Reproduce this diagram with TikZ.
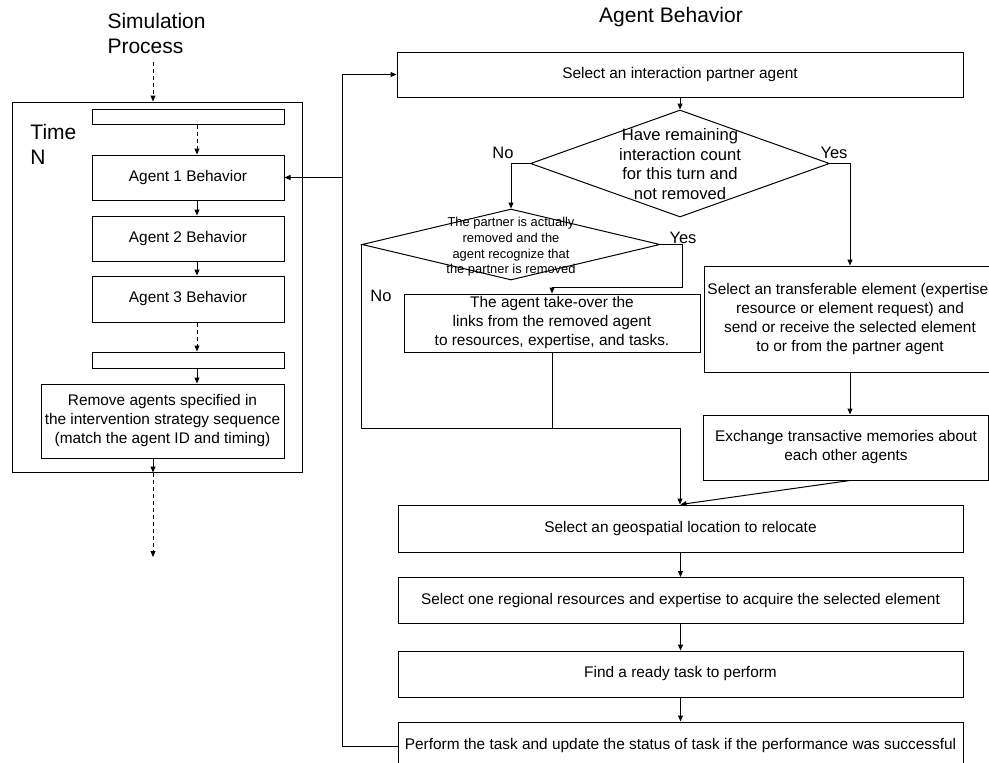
\documentclass[tikz,border=0pt]{standalone}
\usepackage{fontspec}
\setmainfont{Liberation Sans}
\usetikzlibrary{arrows.meta,shapes.geometric}

\begin{document}
\begin{tikzpicture}[x=1pt,y=-1pt,line width=1pt,
  box/.style={draw,rectangle,inner sep=0pt,align=center,font=\fontsize{15.4}{19}\selectfont},
  dia/.style={draw,diamond,inner sep=0pt},
  arr/.style={-{Triangle[length=6pt,width=5pt]}},
  dsh/.style={dash pattern=on 4pt off 3pt},
  lbl/.style={font=\fontsize{16.5}{19}\selectfont,inner sep=0pt},
  ttl/.style={font=\fontsize{21}{25}\selectfont,align=center,inner sep=0pt}]

\useasboundingbox (0,0) rectangle (989,763);

% ---------------- simulation process (left) ----------------
\node[ttl,align=left,anchor=west] (simt) at (107,33) {Simulation\\Process};
\node[draw,inner sep=0pt,minimum width=290pt,minimum height=370pt] (outer) at (157,287) {};
\node[ttl,align=left,anchor=west] (time) at (30,144) {Time\\N};

\node[box,minimum width=192pt,minimum height=15pt] (e1) at (188,116.5) {};
\node[box,minimum width=192pt,minimum height=45pt] (a1) at (188,177.5) {Agent 1 Behavior};
\node[box,minimum width=192pt,minimum height=45pt] (a2) at (188,238.5) {Agent 2 Behavior};
\node[box,minimum width=192pt,minimum height=46pt] (a3) at (188,299) {Agent 3 Behavior};
\node[box,minimum width=192pt,minimum height=16pt] (e2) at (188,360) {};
\node[box,minimum width=243pt,minimum height=74pt] (rm) at (162.5,421)
  {Remove agents specified in\\the intervention strategy sequence\\(match the agent ID and timing)};

\coordinate (sx) at (153,0);
\coordinate (cx) at (197,0);
\coordinate (sin) at (153,62);
\coordinate (send) at (153,557);

\draw[arr,dsh] (sin) -- (sin |- outer.north);
\draw[arr,dsh] (e1.south -| cx) -- (a1.north -| cx);
\draw[arr] (a1.south -| cx) -- (a2.north -| cx);
\draw[arr] (a2.south -| cx) -- (a3.north -| cx);
\draw[arr,dsh] (a3.south -| cx) -- (e2.north -| cx);
\draw[arr] (e2.south -| cx) -- (rm.north -| cx);
\draw[arr] (rm.south -| sx) -- (outer.south -| sx);
\draw[arr,dsh] (outer.south -| sx) -- (send);

% ---------------- agent behavior (right) ----------------
\node[ttl] (abt) at (671,17) {Agent Behavior};

\node[box,minimum width=566pt,minimum height=45pt] (sel) at (680,74.5) {Select an interaction partner agent};

\node[dia,minimum width=299pt,minimum height=107pt] (d1) at (680,163.5) {};
\node[font=\fontsize{16.6}{19.4}\selectfont,align=center,inner sep=0pt] (d1t) at (680,164)
  {Have remaining\\interaction count\\for this turn and\\not removed};
\node[lbl] (no1) at (503,153) {No};
\node[lbl] (yes1) at (834,153) {Yes};

\node[dia,minimum width=298pt,minimum height=71pt] (d2) at (511,244.5) {};
\node[font=\fontsize{12.9}{15.7}\selectfont,align=center,inner sep=0pt] (d2t) at (511,247)
  {The partner is actually\\removed and the\\agent recognize that\\the partner is removed};
\node[lbl] (yes2) at (683,238) {Yes};
\node[lbl] (no2) at (381,296) {No};

\node[box,minimum width=296pt,minimum height=58pt] (tk) at (552,323)
  {The agent take-over the\\links from the removed agent\\to resources, expertise, and tasks.};

\node[box,minimum width=292pt,minimum height=106pt,font=\fontsize{15.4}{18.7}\selectfont] (tr) at (850,319)
  {Select an transferable element (expertise,\\resource or element request) and\\send or receive the selected element\\to or from the partner agent};
\node[box,minimum width=285pt,minimum height=65pt] (ex) at (846,447.5)
  {Exchange transactive memories about\\each other agents};

\node[box,minimum width=565pt,minimum height=47pt] (geo) at (680.5,528.5) {Select an geospatial location to relocate};
\node[box,minimum width=565pt,minimum height=46pt] (reg) at (680.5,600.5) {Select one regional resources and expertise to acquire the selected element};
\node[box,minimum width=565pt,minimum height=46pt] (fnd) at (680.5,674) {Find a ready task to perform};
\node[box,minimum width=565pt,minimum height=48pt] (prf) at (680.5,746) {Perform the task and update the status of task if the performance was successful};

\coordinate (lp) at (342,0);
\coordinate (yx) at (682,287);
\coordinate (jn) at (680,428);

% loop back to the agent list and the next partner selection
\draw[arr] (prf.west) -| (lp |- sel.west) -- (sel.west);
\draw[arr] (lp |- a1.east) -- (a1.east);

\draw[arr] (sel.south) -- (d1.north);
\draw[arr] (d1.west) -| (d2.north);
\draw[arr] (d1.east) -| (tr.north);
\draw[arr] (d2.east) -| (yx) -| (tk.north);
\draw[arr] (d2.west) |- (jn) -- (jn |- geo.north);
\draw (tk.south) -- (tk.south |- jn);
\draw[arr] (tr.south) -- (tr.south |- ex.north);
\draw[arr] (ex.south -| tr.south) -- (geo.north);
\draw[arr] (geo.south) -- (reg.north);
\draw[arr] (reg.south) -- (fnd.north);
\draw[arr] (fnd.south) -- (prf.north);
\end{tikzpicture}
\end{document}
